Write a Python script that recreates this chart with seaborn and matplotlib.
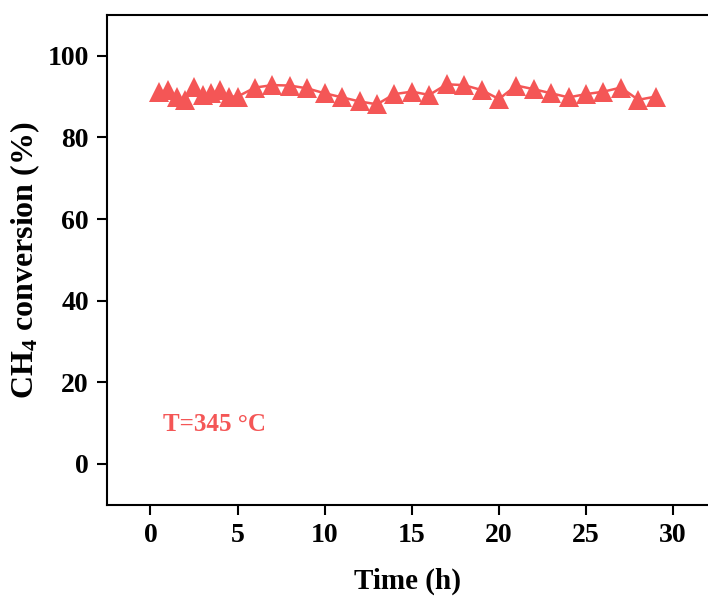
import pandas as pd
import numpy as np
import matplotlib
matplotlib.use('Agg')
import matplotlib.pyplot as plt
import seaborn as sns

# time on stream (h) and CH4 conversion (%)
time_h = [0.5, 1, 1.5, 2, 2.5, 3, 3.5, 4, 4.5, 5,
          6, 7, 8, 9, 10, 11, 12, 13, 14, 15, 16, 17, 18, 19, 20,
          21, 22, 23, 24, 25, 26, 27, 28, 29]
conversion = [91.2, 91.5, 89.8, 89.2, 92.4, 90.4, 90.8, 91.6, 90.0, 90.0,
              92.2, 92.8, 92.7, 92.0, 90.8, 89.8, 88.8, 88.1, 90.6, 91.2, 90.4, 93.0, 92.8, 91.6, 89.4,
              92.7, 91.8, 90.8, 89.8, 90.6, 91.2, 92.2, 89.2, 90.0]
temp_label = 'T=345 \u00b0C'

df = pd.DataFrame({'time': time_h, 'conv': conversion})

sns.set_style('white')
plt.rcParams['font.family'] = ['Liberation Serif', 'DejaVu Serif']
plt.rcParams['font.weight'] = 'bold'
plt.rcParams['text.color'] = 'black'
plt.rcParams['axes.labelcolor'] = 'black'
plt.rcParams['xtick.color'] = 'black'
plt.rcParams['ytick.color'] = 'black'
plt.rcParams['mathtext.fontset'] = 'custom'
plt.rcParams['mathtext.rm'] = 'Liberation Serif:bold'
plt.rcParams['mathtext.it'] = 'Liberation Serif:bold'
plt.rcParams['mathtext.bf'] = 'Liberation Serif:bold'

red = '#f45656'

fig = plt.figure(figsize=(7.08, 5.96), dpi=100)
ax = fig.add_axes([0.151, 0.153, 0.849, 0.822])

sns.lineplot(df, x='time', y='conv', ax=ax, color=red, lw=1.8,
             marker='^', markersize=14, markeredgewidth=0, markeredgecolor=red)

ax.set_xlim(-2.5, 32)
ax.set_ylim(-10, 110)
ax.set_xticks([0, 5, 10, 15, 20, 25, 30])
ax.set_yticks([0, 20, 40, 60, 80, 100])
ax.tick_params(direction='out', length=7, width=1.5, labelsize=20,
               left=True, bottom=True, pad=6)
for lab in ax.get_xticklabels() + ax.get_yticklabels():
    lab.set_fontweight('bold')
for s in ['left', 'bottom', 'top']:
    ax.spines[s].set_linewidth(1.5)
    ax.spines[s].set_color('black')
ax.spines['right'].set_visible(False)

ax.set_xlabel('Time (h)', fontsize=21, fontweight='bold', labelpad=14)
ax.set_ylabel(r'CH$_\mathrm{4}$ conversion (%)', fontsize=23, fontweight='bold', labelpad=4)

ax.text(0.7, 9.6, temp_label, color=red, fontsize=18, fontweight='bold', va='center')

fig.savefig('out.png', dpi=100)
